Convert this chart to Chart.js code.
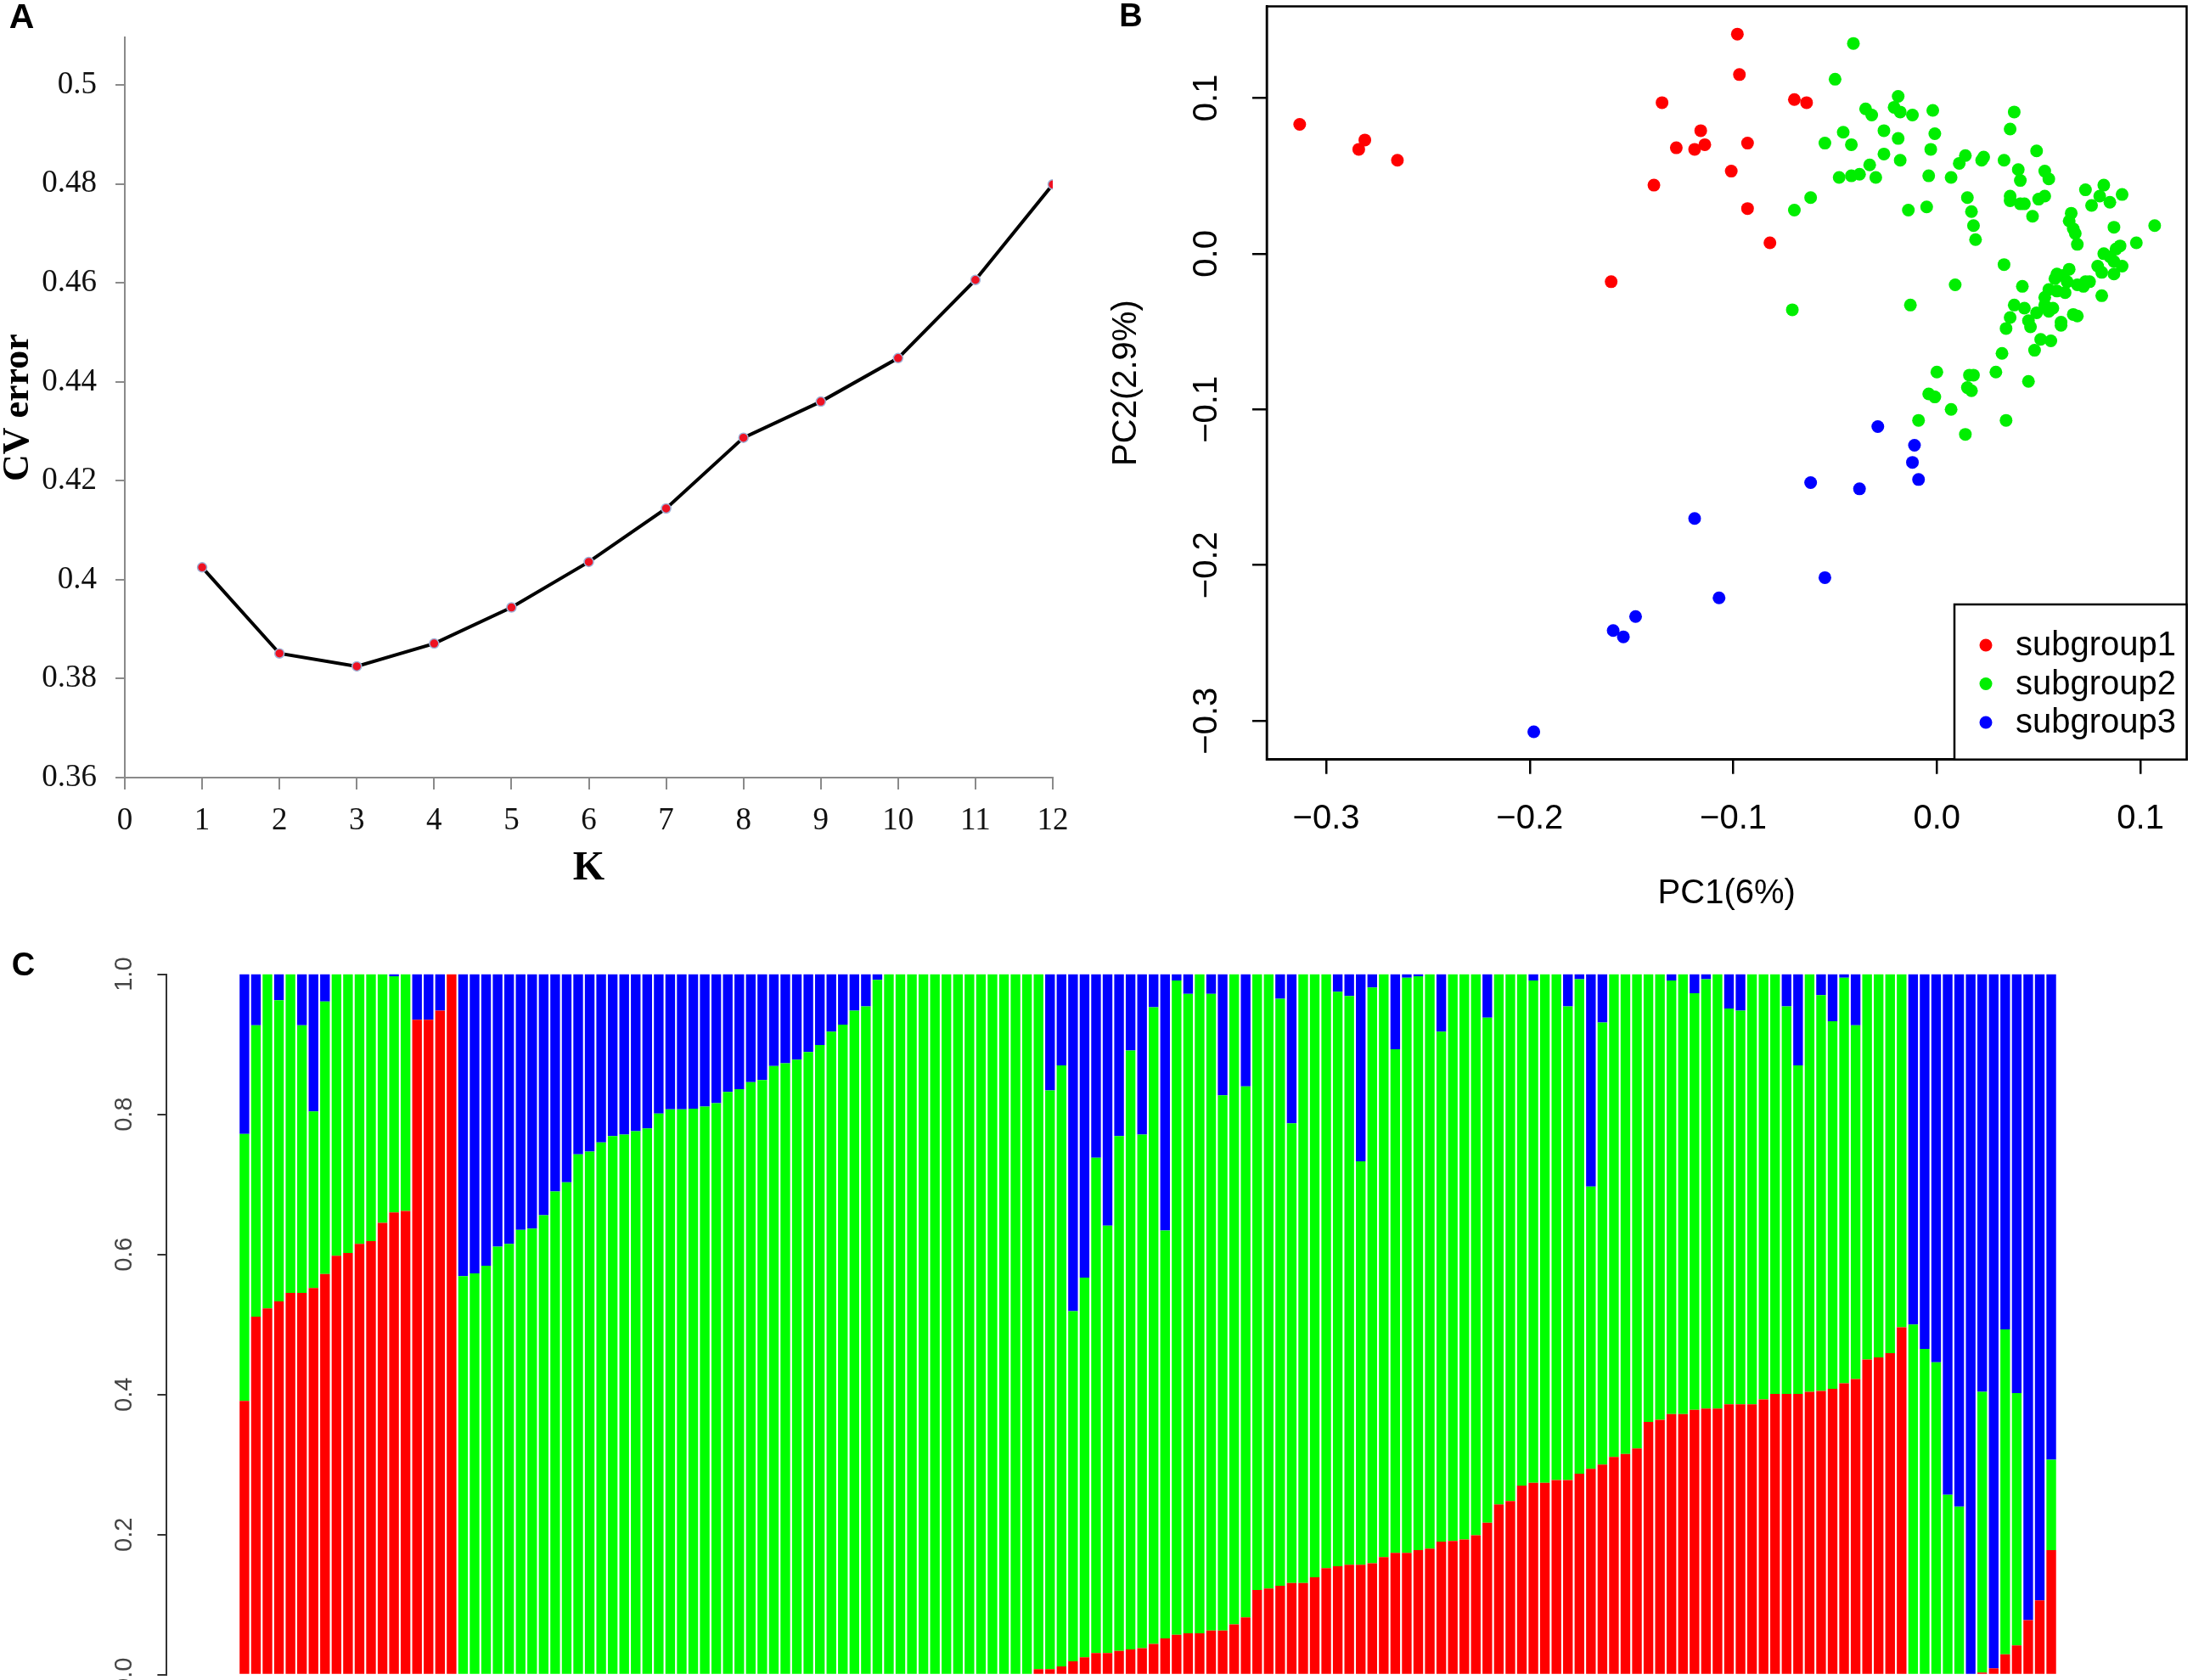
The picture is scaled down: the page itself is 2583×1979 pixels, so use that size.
<!DOCTYPE html>
<html>
<head>
<meta charset="utf-8">
<title>Population structure</title>
<script src="https://cdn.jsdelivr.net/npm/chart.js@4.4.1/dist/chart.umd.min.js"></script>
<style>
    html, body { margin: 0; padding: 0; background: #fff; }
    body { width: 2583px; height: 1979px; position: relative; overflow: hidden; }
    canvas { position: absolute; }
    #cvChart { left: 0; top: 0; }
    #pcaChart { left: 1290px; top: 0; }
    #admixChart { left: 0; top: 1100px; }
</style>
</head>
<body>
<canvas id="cvChart" width="1290" height="1070"></canvas>
<canvas id="pcaChart" width="1293" height="1100"></canvas>
<canvas id="admixChart" width="2583" height="879"></canvas>
<script>
// Panel A: cross-validation error for each K
const kValues = [1, 2, 3, 4, 5, 6, 7, 8, 9, 10, 11, 12];
const cvError = [0.4025, 0.3851, 0.3825, 0.3871, 0.3944, 0.4036, 0.4144, 0.4287, 0.4360, 0.4448, 0.4606, 0.4799];
const cvTicks = [0.36, 0.38, 0.40, 0.42, 0.44, 0.46, 0.48, 0.50];

// Panel B: PCA scores per subgroup
const sub1X = [-0.313, -0.281, -0.284, -0.265, -0.098, -0.097, -0.135, -0.070, -0.064, -0.116,
    -0.128, -0.119, -0.114, -0.093, -0.101, -0.139, -0.093, -0.082, -0.160];
const sub1Y = [0.083, 0.073, 0.067, 0.060, 0.141, 0.115, 0.097, 0.099, 0.097, 0.079,
    0.068, 0.067, 0.070, 0.071, 0.053, 0.044, 0.029, 0.007, -0.018];
const sub2X = [-0.041, -0.050, -0.019, -0.035, -0.032, -0.021, -0.018, -0.012, -0.002, 0.038,
    -0.046, -0.026, -0.019, -0.001, -0.042, -0.055, -0.026, -0.018, -0.003, 0.011,
    0.014, 0.022, 0.023, 0.036, 0.033, 0.049, 0.040, -0.033, -0.048, -0.042,
    -0.038, -0.030, -0.004, 0.007, 0.041, 0.053, 0.055, -0.062, -0.070, -0.014,
    -0.005, 0.015, 0.017, 0.036, 0.036, 0.041, 0.043, 0.050, 0.053, 0.047,
    0.073, 0.082, 0.080, 0.085, 0.091, 0.076, 0.066, 0.065, 0.018, 0.019,
    0.067, 0.068, 0.069, 0.087, 0.107, 0.098, 0.082, 0.085, 0.088, 0.090,
    0.033, 0.079, 0.081, 0.087, 0.091, 0.087, 0.059, 0.062, 0.065, 0.064,
    0.009, 0.042, 0.069, 0.073, 0.075, 0.081, 0.063, 0.059, 0.053, 0.055,
    0.058, 0.072, -0.071, -0.013, 0.038, 0.043, 0.049, 0.045, 0.057, 0.055,
    0.061, 0.067, 0.069, 0.053, 0.034, 0.036, 0.046, 0.061, 0.051, 0.056,
    0.048, 0.032, 0.029, 0.045, 0.016, 0.018, 0.000, 0.015, 0.017, -0.004,
    -0.001, 0.007, -0.009, 0.034, 0.014];
const sub2Y = [0.135, 0.112, 0.101, 0.093, 0.089, 0.094, 0.091, 0.089, 0.092, 0.091,
    0.078, 0.079, 0.074, 0.077, 0.070, 0.071, 0.064, 0.060, 0.067, 0.058,
    0.063, 0.060, 0.062, 0.080, 0.060, 0.066, 0.054, 0.057, 0.049, 0.050,
    0.051, 0.049, 0.050, 0.049, 0.047, 0.053, 0.048, 0.036, 0.028, 0.028,
    0.030, 0.036, 0.027, 0.037, 0.034, 0.032, 0.032, 0.035, 0.037, 0.024,
    0.041, 0.044, 0.037, 0.033, 0.038, 0.031, 0.026, 0.021, 0.018, 0.009,
    0.016, 0.013, 0.006, 0.017, 0.018, 0.007, 0.000, -0.002, 0.003, 0.005,
    -0.007, -0.008, -0.012, -0.005, -0.008, -0.013, -0.013, -0.014, -0.010, -0.018,
    -0.020, -0.021, -0.020, -0.018, -0.018, -0.027, -0.025, -0.024, -0.028, -0.023,
    -0.016, -0.021, -0.036, -0.033, -0.033, -0.035, -0.038, -0.043, -0.035, -0.037,
    -0.044, -0.039, -0.040, -0.033, -0.048, -0.041, -0.047, -0.046, -0.055, -0.056,
    -0.062, -0.064, -0.076, -0.082, -0.078, -0.078, -0.076, -0.086, -0.088, -0.090,
    -0.092, -0.100, -0.107, -0.107, -0.116];
const sub3X = [-0.029, -0.011, -0.012, -0.009, -0.062, -0.038, -0.119, -0.055, -0.107, -0.148,
    -0.159, -0.154, -0.198];
const sub3Y = [-0.111, -0.123, -0.134, -0.145, -0.147, -0.151, -0.170, -0.208, -0.221, -0.233,
    -0.242, -0.246, -0.307];
const pcaTicks = [-0.3, -0.2, -0.1, 0.0, 0.1];
const subgroupNames = ['subgroup1', 'subgroup2', 'subgroup3'];

// Panel C: ancestry proportions (K = 3) for each of the 158 accessions
const admixRed = [0.391, 0.511, 0.523, 0.533, 0.545, 0.545, 0.552, 0.572, 0.598, 0.602,
    0.615, 0.619, 0.645, 0.660, 0.662, 0.935, 0.935, 0.948, 1, 0,
    0, 0, 0, 0, 0, 0, 0, 0, 0, 0,
    0, 0, 0, 0, 0, 0, 0, 0, 0, 0,
    0, 0, 0, 0, 0, 0, 0, 0, 0, 0,
    0, 0, 0, 0, 0, 0, 0, 0, 0, 0,
    0, 0, 0, 0, 0, 0, 0, 0, 0, 0.008,
    0.008, 0.012, 0.019, 0.025, 0.031, 0.031, 0.034, 0.036, 0.038, 0.044,
    0.052, 0.057, 0.059, 0.059, 0.063, 0.063, 0.072, 0.082, 0.121, 0.123,
    0.127, 0.131, 0.131, 0.139, 0.152, 0.155, 0.157, 0.157, 0.159, 0.168,
    0.174, 0.174, 0.178, 0.180, 0.190, 0.191, 0.193, 0.199, 0.217, 0.243,
    0.248, 0.270, 0.274, 0.274, 0.278, 0.278, 0.287, 0.294, 0.300, 0.311,
    0.315, 0.323, 0.361, 0.364, 0.372, 0.372, 0.378, 0.380, 0.380, 0.386,
    0.386, 0.386, 0.393, 0.401, 0.401, 0.401, 0.404, 0.405, 0.408, 0.416,
    0.422, 0.450, 0.453, 0.459, 0.496, 0, 0, 0, 0, 0,
    0, 0.003, 0.009, 0.029, 0.042, 0.078, 0.106, 0.178];
const admixGreen = [0.381, 0.416, 0.477, 0.430, 0.455, 0.382, 0.252, 0.389, 0.402, 0.398,
    0.385, 0.381, 0.355, 0.337, 0.338, 0, 0, 0, 0, 0.569,
    0.573, 0.584, 0.611, 0.615, 0.635, 0.637, 0.656, 0.690, 0.703, 0.743,
    0.747, 0.760, 0.769, 0.771, 0.776, 0.780, 0.801, 0.807, 0.807, 0.808,
    0.811, 0.816, 0.832, 0.836, 0.846, 0.849, 0.869, 0.873, 0.878, 0.889,
    0.899, 0.918, 0.928, 0.948, 0.954, 0.992, 1, 1, 1, 1,
    1, 1, 1, 1, 1, 1, 1, 1, 1, 0.992,
    0.826, 0.858, 0.500, 0.542, 0.707, 0.610, 0.735, 0.855, 0.733, 0.909,
    0.582, 0.934, 0.913, 0.941, 0.909, 0.764, 0.928, 0.758, 0.879, 0.877,
    0.838, 0.656, 0.869, 0.861, 0.848, 0.820, 0.812, 0.576, 0.822, 0.832,
    0.719, 0.821, 0.819, 0.820, 0.728, 0.809, 0.807, 0.801, 0.721, 0.757,
    0.752, 0.730, 0.717, 0.726, 0.722, 0.676, 0.706, 0.403, 0.631, 0.689,
    0.685, 0.677, 0.639, 0.636, 0.619, 0.628, 0.595, 0.613, 0.620, 0.565,
    0.562, 0.614, 0.607, 0.599, 0.553, 0.469, 0.596, 0.565, 0.525, 0.579,
    0.505, 0.550, 0.547, 0.541, 0.504, 0.500, 0.465, 0.446, 0.257, 0.240,
    0, 0.401, 0, 0.464, 0.360, 0, 0, 0.129];
const admixBlue = [0.228, 0.073, 0, 0.037, 0, 0.073, 0.196, 0.039, 0, 0,
    0, 0, 0, 0.003, 0, 0.065, 0.065, 0.052, 0, 0.431,
    0.427, 0.416, 0.389, 0.385, 0.365, 0.363, 0.344, 0.310, 0.297, 0.257,
    0.253, 0.240, 0.231, 0.229, 0.224, 0.220, 0.199, 0.193, 0.193, 0.192,
    0.189, 0.184, 0.168, 0.164, 0.154, 0.151, 0.131, 0.127, 0.122, 0.111,
    0.101, 0.082, 0.072, 0.052, 0.046, 0.008, 0, 0, 0, 0,
    0, 0, 0, 0, 0, 0, 0, 0, 0, 0,
    0.166, 0.130, 0.481, 0.433, 0.262, 0.359, 0.231, 0.109, 0.229, 0.047,
    0.366, 0.009, 0.028, 0, 0.028, 0.173, 0, 0.160, 0, 0,
    0.035, 0.213, 0, 0, 0, 0.025, 0.031, 0.267, 0.019, 0,
    0.107, 0.005, 0.003, 0, 0.082, 0, 0, 0, 0.062, 0,
    0, 0, 0.009, 0, 0, 0.046, 0.007, 0.303, 0.069, 0,
    0, 0, 0, 0, 0.009, 0, 0.027, 0.007, 0, 0.049,
    0.052, 0, 0, 0, 0.046, 0.130, 0, 0.030, 0.067, 0.005,
    0.073, 0, 0, 0, 0, 0.500, 0.535, 0.554, 0.743, 0.760,
    1, 0.596, 0.991, 0.507, 0.598, 0.922, 0.894, 0.693];
const admixTicks = [0, 0.2, 0.4, 0.6, 0.8, 1.0];

const SANS = "'Liberation Sans', Arial, sans-serif";
const SERIF = "'Liberation Serif', 'Times New Roman', serif";

function toPoints(xs, ys) {
    return xs.map((x, i) => ({ x, y: ys[i] }));
}

function fixTicks(values) {
    return scale => { scale.ticks = values.map(v => ({ value: v })); };
}

// R-style minus sign
function rNum(v, digits) {
    return v.toFixed(digits).replace('-', '\u2212').replace('\u22120.0', '0.0');
}

// panel letter drawn in the corner of each canvas
function panelLetter(letter, x, y, size) {
    return {
        id: 'letter' + letter,
        afterDraw(chart) {
            const ctx = chart.ctx;
            ctx.save();
            ctx.font = `bold ${size}px ${SANS}`;
            ctx.fillStyle = '#000';
            ctx.textAlign = 'center';
            ctx.textBaseline = 'middle';
            ctx.fillText(letter, x, y);
            ctx.restore();
        }
    };
}

// y tick labels turned 90 degrees, like base R graphics
function rotatedYLabels(x, font, color, fmt) {
    return {
        id: 'rotatedYLabels',
        afterDraw(chart) {
            const scale = chart.scales.y;
            const ctx = chart.ctx;
            ctx.save();
            ctx.font = font;
            ctx.fillStyle = color;
            ctx.textAlign = 'center';
            ctx.textBaseline = 'middle';
            scale.ticks.forEach(t => {
                ctx.save();
                ctx.translate(x, scale.getPixelForValue(t.value));
                ctx.rotate(-Math.PI / 2);
                ctx.fillText(fmt(t.value), 0, 0);
                ctx.restore();
            });
            ctx.restore();
        }
    };
}

const plotBox = {
    id: 'plotBox',
    afterDraw(chart) {
        const { ctx, chartArea: a } = chart;
        ctx.save();
        ctx.strokeStyle = '#000';
        ctx.lineWidth = 2.5;
        ctx.strokeRect(a.left, a.top, a.right - a.left, a.bottom - a.top);
        ctx.restore();
    }
};

// legend box in the bottom-right corner of the PCA plot
const pcaLegend = {
    id: 'pcaLegend',
    afterDraw(chart) {
        const { ctx, chartArea: a } = chart;
        const boxLeft = 1012, boxTop = 712;
        ctx.save();
        ctx.fillStyle = '#fff';
        ctx.fillRect(boxLeft, boxTop, a.right - boxLeft, a.bottom - boxTop);
        ctx.strokeStyle = '#000';
        ctx.lineWidth = 2.5;
        ctx.strokeRect(boxLeft, boxTop, a.right - boxLeft, a.bottom - boxTop);
        ctx.font = `40px ${SANS}`;
        ctx.textBaseline = 'middle';
        chart.data.datasets.forEach((ds, i) => {
            const y = 760 + i * 45.5;
            ctx.fillStyle = ds.backgroundColor;
            ctx.beginPath();
            ctx.arc(1049, y, 7.5, 0, Math.PI * 2);
            ctx.fill();
            ctx.fillStyle = '#000';
            ctx.fillText(ds.label, 1084, y + 1);
        });
        ctx.restore();
    }
};

function initCvChart() {
    const axisGray = '#8a8a8a';
    new Chart(document.getElementById('cvChart'), {
        type: 'line',
        data: {
            datasets: [{
                data: toPoints(kValues, cvError),
                borderColor: '#000',
                borderWidth: 4,
                pointRadius: 5.5,
                pointBackgroundColor: '#ee1122',
                pointBorderColor: '#9fb2d6',
                pointBorderWidth: 1.5,
                tension: 0
            }]
        },
        options: {
            responsive: false,
            devicePixelRatio: 1,
            animation: false,
            layout: { padding: { left: 0, top: 42, right: 50, bottom: 0 } },
            plugins: { legend: { display: false }, tooltip: { enabled: false } },
            scales: {
                x: {
                    type: 'linear', min: 0, max: 12,
                    ticks: { stepSize: 1, font: { family: SERIF, size: 37 }, color: '#111', padding: 15 },
                    grid: { drawOnChartArea: false, tickLength: 14, color: axisGray, lineWidth: 2 },
                    border: { color: axisGray, width: 2 },
                    title: { display: true, text: 'K', color: '#000',
                        font: { family: SERIF, size: 48, weight: 'bold', lineHeight: 1 },
                        padding: { top: 0, bottom: 22 } },
                    afterFit: s => { s.height = 154; }
                },
                y: {
                    type: 'linear', min: 0.36, max: 0.5096,
                    afterBuildTicks: fixTicks(cvTicks),
                    ticks: { font: { family: SERIF, size: 37 }, color: '#111', padding: 22,
                        callback: v => String(+v.toFixed(2)) },
                    grid: { drawOnChartArea: false, tickLength: 11, color: axisGray, lineWidth: 2 },
                    border: { color: axisGray, width: 2 },
                    title: { display: true, text: 'CV error', color: '#000',
                        font: { family: SERIF, size: 44, weight: 'bold', lineHeight: 1 },
                        padding: { top: 0, bottom: 0 } },
                    afterFit: s => { s.width = 147; }
                }
            }
        },
        plugins: [panelLetter('A', 25.5, 22, 41)]
    });
}

function initPcaChart() {
    const colors = ['#ff0000', '#00ee00', '#0000ff'];
    const groups = [toPoints(sub1X, sub1Y), toPoints(sub2X, sub2Y), toPoints(sub3X, sub3Y)];
    new Chart(document.getElementById('pcaChart'), {
        type: 'scatter',
        data: {
            datasets: groups.map((pts, i) => ({
                label: subgroupNames[i],
                data: pts,
                backgroundColor: colors[i],
                borderWidth: 0,
                pointRadius: 7.5
            }))
        },
        options: {
            responsive: false,
            devicePixelRatio: 1,
            animation: false,
            layout: { padding: { left: 0, top: 5.6, right: 6.6, bottom: 0 } },
            plugins: { legend: { display: false }, tooltip: { enabled: false } },
            scales: {
                x: {
                    type: 'linear', min: -0.3292, max: 0.1227,
                    afterBuildTicks: fixTicks(pcaTicks),
                    ticks: { font: { family: SANS, size: 40 }, color: '#000', padding: 29,
                        maxRotation: 0, callback: v => rNum(v, 1) },
                    grid: { drawOnChartArea: false, tickLength: 17, color: '#000', lineWidth: 2.5 },
                    border: { color: '#000', width: 2.5 },
                    title: { display: true, text: 'PC1(6%)', color: '#000',
                        font: { family: SANS, size: 40, lineHeight: 1 },
                        padding: { top: 0, bottom: 27 } },
                    afterFit: s => { s.height = 205.3; }
                },
                y: {
                    type: 'linear', min: -0.3248, max: 0.1588,
                    afterBuildTicks: fixTicks(pcaTicks),
                    ticks: { display: false },
                    grid: { drawOnChartArea: false, tickLength: 17, color: '#000', lineWidth: 2.5 },
                    border: { color: '#000', width: 2.5 },
                    title: { display: true, text: 'PC2(2.9%)', color: '#000',
                        font: { family: SANS, size: 40, lineHeight: 1 },
                        padding: { top: 17, bottom: 0 } },
                    afterFit: s => { s.width = 202; }
                }
            }
        },
        plugins: [plotBox, pcaLegend, rotatedYLabels(132, `40px ${SANS}`, '#000', v => rNum(v, 1)),
            panelLetter('B', 42, 21, 38)]
    });
}

function initAdmixChart() {
    const positions = admixRed.map((_, i) => i + 1);
    const layers = [
        { values: admixRed, color: '#ff0000' },
        { values: admixGreen, color: '#00ff00' },
        { values: admixBlue, color: '#0000ff' }
    ];
    new Chart(document.getElementById('admixChart'), {
        type: 'bar',
        data: {
            datasets: layers.map(l => ({
                data: toPoints(positions, l.values),
                backgroundColor: l.color,
                borderWidth: 0,
                barPercentage: 0.84,
                categoryPercentage: 1
            }))
        },
        options: {
            responsive: false,
            devicePixelRatio: 1,
            animation: false,
            layout: { padding: { left: 0, top: 47.6, right: 153, bottom: 6.2 } },
            plugins: { legend: { display: false }, tooltip: { enabled: false } },
            scales: {
                // bars sit at 1..158; the empty stretch on the left keeps them clear of the y axis
                x: { type: 'linear', stacked: true, min: -5.75, max: 159.03, display: false,
                    offset: false, grid: { offset: false } },
                y: {
                    type: 'linear', stacked: true, min: 0, max: 1,
                    afterBuildTicks: fixTicks(admixTicks),
                    ticks: { display: false },
                    grid: { drawOnChartArea: false, tickLength: 11, color: '#333', lineWidth: 2 },
                    border: { color: '#333', width: 2 },
                    afterFit: s => { s.width = 196.4; }
                }
            }
        },
        plugins: [rotatedYLabels(147, `29px ${SANS}`, '#444', v => v.toFixed(1)),
            panelLetter('C', 27.5, 38.5, 38)]
    });
}

initCvChart();
initPcaChart();
initAdmixChart();
</script>
</body>
</html>
